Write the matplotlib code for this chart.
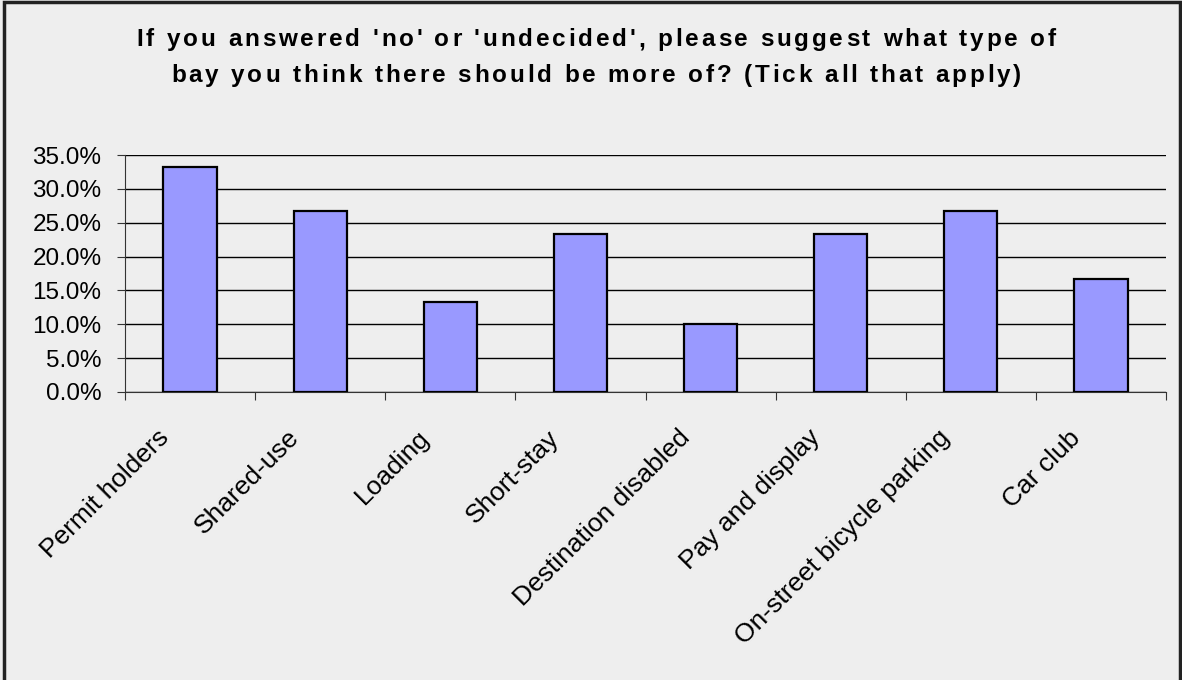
import numpy as np
import matplotlib.pyplot as plt
from matplotlib.patches import Rectangle
from matplotlib.font_manager import FontProperties
from matplotlib.transforms import ScaledTranslation

categories = ['Permit holders', 'Shared-use', 'Loading', 'Short-stay',
              'Destination disabled', 'Pay and display',
              'On-street bicycle parking', 'Car club']
values = [33.3, 26.7, 13.3, 23.3, 10.0, 23.3, 26.7, 16.7]
yticks = [0, 5, 10, 15, 20, 25, 30, 35]
title_lines = ["If you answered 'no' or 'undecided', please suggest what type of",
               "bay you think there should be more of? (Tick all that apply)"]

W, H = 1182, 680
plt.rcParams['font.family'] = ['Liberation Sans', 'DejaVu Sans']

fig = plt.figure(figsize=(W / 100, H / 100), dpi=100, facecolor='#eeeeee')
fig.patches.append(Rectangle((0.003, -0.01), 0.995, 1.007, transform=fig.transFigure,
                             fill=False, edgecolor='#222222', linewidth=2.5))

ax = fig.add_axes([125 / W, 1 - 392 / H, (1166 - 125) / W, (392 - 155) / H])
ax.set_facecolor('#eeeeee')

x = np.arange(len(categories))
ax.bar(x, values, width=0.41, color='#9999ff', edgecolor='black', linewidth=1.6, zorder=3)

ax.set_xlim(-0.5, len(categories) - 0.5)
ax.set_ylim(0, 35)
ax.set_yticks(yticks)
ax.set_yticklabels([f'{v:.1f}%' for v in yticks], fontsize=17.5)
ax.yaxis.grid(True, color='black', linewidth=1)
ax.set_axisbelow(True)

ax.set_xticks(np.arange(len(categories) + 1) - 0.5)
ax.set_xticklabels([])
ax.set_xticks(x, minor=True)
ax.set_xticklabels(categories, minor=True, rotation=45, ha='right',
                   rotation_mode='anchor', fontsize=19)
ax.tick_params(axis='x', which='minor', length=0, pad=4)
ax.tick_params(axis='x', which='major', length=6, direction='out', color='#333333')
ax.tick_params(axis='y', length=6, color='#333333', pad=11)
# shift rotated labels so their ends sit left of the category centre
shift = ScaledTranslation(-33 / 100, -28 / 100, fig.dpi_scale_trans)
for lab in ax.get_xticklabels(minor=True):
    lab.set_transform(lab.get_transform() + shift)

for s in ['top', 'right']:
    ax.spines[s].set_visible(False)
ax.spines['left'].set_color('#333333')
ax.spines['bottom'].set_color('#333333')

# title with wide letter spacing, placed one character at a time
prop = FontProperties(family='Liberation Sans', weight='bold', size=17.5)
r = fig.canvas.get_renderer()


def text_w(s):
    return r.get_text_width_height_descent(s, prop, ismath=False)[0]


def advances(s):
    base = text_w('II')
    return [text_w('I' + c + 'I') - base for c in s]


adv0 = advances(title_lines[0])
spacing = (1056 - 137 - sum(adv0)) / (len(title_lines[0]) - 1)
for line, base_y in zip(title_lines, [46, 82]):
    adv = advances(line)
    total = sum(adv) + spacing * (len(line) - 1)
    cx = 596 - total / 2
    for c, a in zip(line, adv):
        if c != ' ':
            fig.text(cx / W, 1 - base_y / H, c, fontproperties=prop,
                     ha='left', va='baseline')
        cx += a + spacing

fig.savefig('out.png', dpi=100, facecolor=fig.get_facecolor())
